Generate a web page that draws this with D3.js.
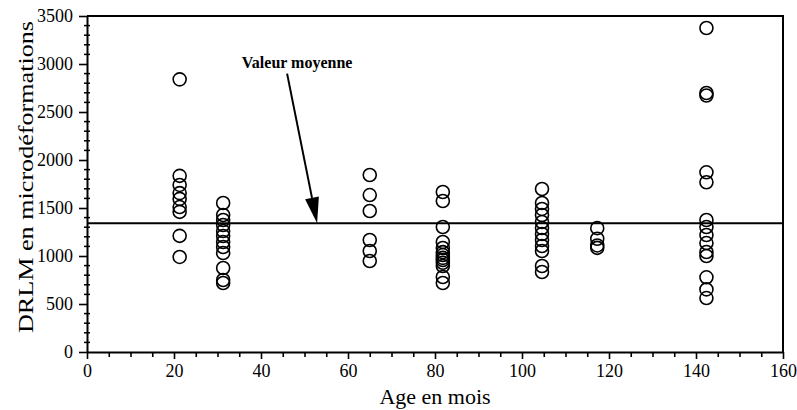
<!DOCTYPE html>
<html>
<head>
<meta charset="utf-8">
<script src="https://cdn.jsdelivr.net/npm/d3@7"></script>
<style>
  body { margin: 0; background: #fff; }
  text { font-family: "Liberation Serif", "Times New Roman", serif; fill: #000; }
</style>
</head>
<body>
<div id="chart"></div>
<script>
// ages (months) of each group of measurements
var ageGroups = [21.3, 31.3, 65, 81.8, 104.6, 117.3, 142.4];
// DRLM values, one list per age group
var drlmValues = [
    [2840, 1835, 1740, 1655, 1595, 1510, 1460, 1210, 990],
    [1552, 1427, 1375, 1323, 1260, 1208, 1146, 1094, 1031, 875, 750, 719],
    [1844, 1635, 1469, 1167, 1052, 948],
    [1667, 1573, 1302, 1146, 1083, 1040, 1010, 980, 958, 930, 896, 781, 719],
    [1698, 1552, 1490, 1427, 1354, 1292, 1229, 1167, 1104, 1052, 896, 833],
    [1290, 1180, 1110, 1085],
    [3375, 2698, 2672, 1872, 1768, 1375, 1302, 1219, 1135, 1042, 1000, 778, 652, 562]
];
var meanValue = 1340;
var xTicks = [0, 20, 40, 60, 80, 100, 120, 140, 160];
var yTicks = [0, 500, 1000, 1500, 2000, 2500, 3000, 3500];
var annotation = "Valeur moyenne";
var xTitle = "Age en mois";
var yTitle = "DRLM en microdéformations";

var width = 797;
var height = 410;
var margin = { top: 16, left: 87, bottom: 58, right: 14 };

var svg = d3.select('#chart')
            .append('svg')
            .attr('width', width)
            .attr('height', height);

var x = d3.scaleLinear()
          .domain([0, 160])
          .range([margin.left, width - margin.right]);
var y = d3.scaleLinear()
          .domain([0, 3500])
          .range([height - margin.bottom, margin.top]);

// flatten groups into points
var points = [];
ageGroups.forEach(function(a, i){
    drlmValues[i].forEach(function(v){ points.push([a, v]); });
});

// frame: top and right border
svg.append('path')
    .attr('d', 'M' + x(0) + ',' + y(3500) + 'H' + x(160) + 'V' + y(0))
    .attr('fill', 'none')
    .attr('stroke', '#000')
    .attr('stroke-width', 2);

// x axis
svg.append('g')
    .attr('class', 'axis')
    .attr('transform', 'translate(0,' + y(0) + ')')
    .call(d3.axisBottom(x).tickValues(xTicks).tickFormat(d3.format('d'))
        .tickSize(7).tickSizeOuter(0).tickPadding(5));
svg.append('g')
    .attr('transform', 'translate(0,' + y(0) + ')')
    .call(d3.axisBottom(x).tickValues(d3.range(5, 160, 5).filter(function(d){ return d % 20; }))
        .tickSize(5).tickSizeOuter(0).tickFormat(''))
    .select('.domain').remove();

// y axis
svg.append('g')
    .attr('class', 'axis')
    .attr('transform', 'translate(' + x(0) + ',0)')
    .call(d3.axisLeft(y).tickValues(yTicks).tickFormat(d3.format('d'))
        .tickSize(8).tickSizeOuter(0).tickPadding(6));
svg.append('g')
    .attr('transform', 'translate(' + x(0) + ',0)')
    .selectAll('line')
    .data(d3.range(100, 3500, 100).filter(function(d){ return d % 500; }))
    .enter()
    .append('line')
    .attr('x1', -3)
    .attr('x2', 3)
    .attr('y1', function(d){ return y(d); })
    .attr('y2', function(d){ return y(d); })
    .attr('stroke', '#000')
    .attr('stroke-width', 1.5);

svg.selectAll('.axis')
    .attr('font-family', '"Liberation Serif", serif')
    .attr('font-size', 18);
svg.selectAll('.domain')
    .attr('stroke-width', 2);
svg.selectAll('.tick line')
    .attr('stroke-width', 1.6);

// mean line
svg.append('line')
    .attr('x1', x(0))
    .attr('x2', x(160))
    .attr('y1', y(meanValue))
    .attr('y2', y(meanValue))
    .attr('stroke', '#000')
    .attr('stroke-width', 2);

// data circles
svg.append('g')
    .selectAll('circle')
    .data(points)
    .enter()
    .append('circle')
    .attr('cx', function(d){ return x(d[0]); })
    .attr('cy', function(d){ return y(d[1]); })
    .attr('r', 6.5)
    .attr('fill', 'none')
    .attr('stroke', '#000')
    .attr('stroke-width', 1.6);

// annotation arrow
var tail = [x(46), y(2900)];
var tip = [x(52.9), y(meanValue)];
var ang = Math.atan2(tip[1] - tail[1], tip[0] - tail[0]);
var headLen = 26, headW = 7;
var bx = tip[0] - headLen * Math.cos(ang), by = tip[1] - headLen * Math.sin(ang);
svg.append('line')
    .attr('x1', tail[0]).attr('y1', tail[1])
    .attr('x2', bx).attr('y2', by)
    .attr('stroke', '#000')
    .attr('stroke-width', 2);
svg.append('path')
    .attr('d', 'M' + tip[0] + ',' + tip[1] +
        'L' + (bx + headW * Math.sin(ang)) + ',' + (by - headW * Math.cos(ang)) +
        'L' + (bx - headW * Math.sin(ang)) + ',' + (by + headW * Math.cos(ang)) + 'Z')
    .attr('fill', '#000');

svg.append('text')
    .attr('x', x(48.3))
    .attr('y', y(2960))
    .style('text-anchor', 'middle')
    .style('font-size', '16px')
    .style('font-weight', 'bold')
    .text(annotation);

// axis titles
svg.append('text')
    .attr('x', x(80))
    .attr('y', 404)
    .style('text-anchor', 'middle')
    .style('font-size', '22px')
    .text(xTitle);

svg.append('text')
    .attr('transform', 'translate(33,177) rotate(-90)')
    .style('text-anchor', 'middle')
    .style('font-size', '22px')
    .attr('textLength', 312)
    .attr('lengthAdjust', 'spacingAndGlyphs')
    .text(yTitle);
</script>
</body>
</html>
